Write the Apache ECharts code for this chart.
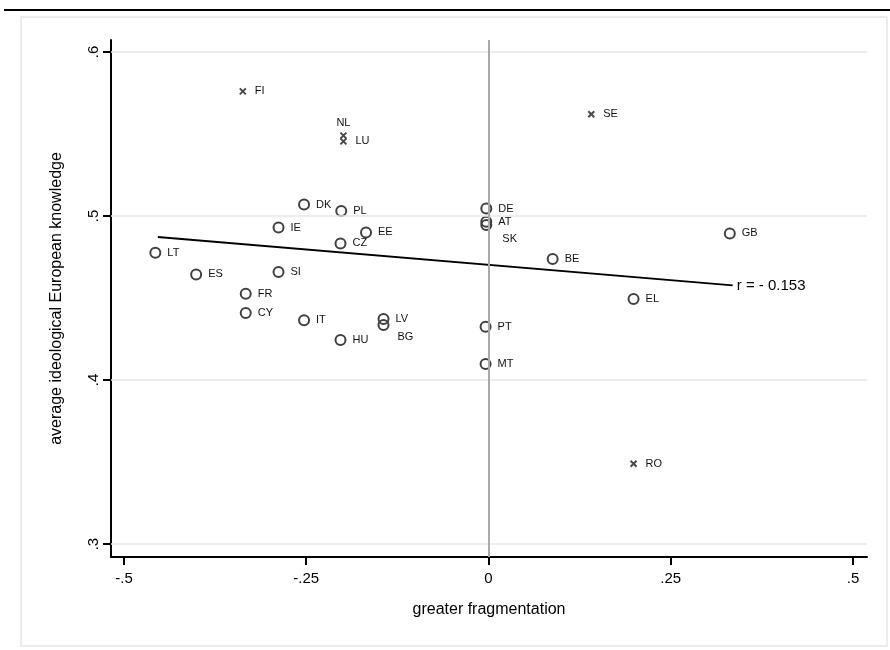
<!DOCTYPE html>
<html>
<head>
<meta charset="utf-8">
<script src="https://cdn.jsdelivr.net/npm/echarts@6/dist/echarts.min.js"></script>
<style>html,body{margin:0;padding:0;background:#fff}#c{width:890px;height:650px}</style>
</head>
<body>
<div id="c"></div>
<script>
// ---- data ----
const crossCodes = ['FI', 'NL', 'LU', 'SE', 'RO'];
const crossX = [-0.337, -0.199, -0.199, 0.141, 0.199];
const crossY = [0.576, 0.549, 0.5455, 0.562, 0.349];

const circleCodes = ['DK','PL','IE','EE','CZ','DE','AT','SK','GB','BE','LT','ES','SI','FR','CY','IT','LV','BG','HU','PT','MT','EL'];
const circleX = [-0.253,-0.202,-0.288,-0.168,-0.203,-0.003,-0.003,-0.003,0.331,0.088,-0.457,-0.401,-0.288,-0.333,-0.333,-0.253,-0.144,-0.144,-0.203,-0.004,-0.004,0.199];
const circleY = [0.507,0.503,0.493,0.490,0.4833,0.5045,0.4965,0.4945,0.4894,0.4738,0.4776,0.4644,0.4659,0.4526,0.4409,0.4364,0.4372,0.4335,0.4244,0.4325,0.4098,0.4494];

const fitX = [-0.4536, 0.335];
const fitY = [0.4872, 0.4577];
const rLabel = 'r = - 0.153';

const xTicks = [-0.5, -0.25, 0, 0.25, 0.5];
const yTicks = [0.3, 0.4, 0.5, 0.6];
const gridY = [0.3, 0.4, 0.5, 0.6];
const zeroX = [0];

const xTitle = 'greater fragmentation';
const yTitle = 'average ideological European knowledge';

// ---- chart ----
const FONT = '"Liberation Sans", Arial, Helvetica, sans-serif';
function fmt(v) {
  const r = Math.round(v * 1000) / 1000;
  if (r === 0) return '0';
  return String(r).replace('0.', '.');
}
const specialLabel = {
  NL: { position: 'top', distance: 3 },
  SK: { position: 'right', distance: 7, offset: [3, 14] },
  BG: { position: 'right', distance: 7, offset: [1, 12] }
};
const circleData = circleCodes.map((c, i) => {
  const d = { name: c, value: [circleX[i], circleY[i]] };
  if (specialLabel[c]) d.label = specialLabel[c];
  return d;
});
const crossData = crossCodes.map((c, i) => {
  const d = { name: c, value: [crossX[i], crossY[i]] };
  if (specialLabel[c]) d.label = specialLabel[c];
  return d;
});

const chart = echarts.init(document.getElementById('c'), null, { renderer: 'canvas' });
chart.setOption({
  animation: false,
  backgroundColor: '#fff',
  textStyle: { fontFamily: FONT },
  graphic: [
    { type: 'rect', z: -10, shape: { x: 21, y: 17, width: 866, height: 629 },
      style: { fill: 'none', stroke: '#e6e6e6', lineWidth: 1.5 } },
    { type: 'line', z: -10, shape: { x1: 4, y1: 10, x2: 890, y2: 10 },
      style: { stroke: '#000', lineWidth: 2 } }
  ],
  grid: { left: 111, right: 23, top: 40, bottom: 93 },
  xAxis: {
    type: 'value', min: -0.5178, max: 0.5192,
    splitLine: { show: false },
    axisLine: { show: true, onZero: false, lineStyle: { color: '#000', width: 2 } },
    axisTick: { show: true, length: 8, lineStyle: { color: '#000', width: 2 }, customValues: xTicks },
    axisLabel: { customValues: xTicks, formatter: fmt, fontSize: 15, color: '#000', margin: 14, fontFamily: FONT },
    name: xTitle, nameLocation: 'middle', nameGap: 45,
    nameTextStyle: { fontSize: 16, color: '#000', fontFamily: FONT }
  },
  yAxis: {
    type: 'value', min: 0.2921, max: 0.6073,
    splitLine: { show: false },
    axisLine: { show: true, onZero: false, lineStyle: { color: '#000', width: 2 } },
    axisTick: { show: true, length: 8, lineStyle: { color: '#000', width: 2 }, customValues: yTicks },
    axisLabel: { customValues: yTicks, formatter: fmt, rotate: 90, fontSize: 15, color: '#000', margin: 10, fontFamily: FONT },
    name: yTitle, nameLocation: 'middle', nameGap: 46, nameRotate: 90,
    nameTextStyle: { fontSize: 16, color: '#000', fontFamily: FONT }
  },
  series: [
    {
      type: 'scatter', data: [], z: 1, silent: true,
      markLine: {
        silent: true, symbol: 'none', animation: false,
        label: { show: false },
        data: gridY.map(v => ({ yAxis: v, lineStyle: { color: '#e6e6e6', width: 1.5, type: 'solid' } }))
          .concat(zeroX.map(v => ({ xAxis: v, lineStyle: { color: '#a9a9a9', width: 2, type: 'solid' } })))
      }
    },
    {
      type: 'line', z: 3, data: fitX.map((x, i) => [x, fitY[i]]),
      showSymbol: false, symbol: 'none',
      lineStyle: { color: '#000', width: 2 },
      endLabel: { show: true, formatter: rLabel, fontSize: 15, color: '#000', distance: 4, fontFamily: FONT }
    },
    {
      type: 'scatter', z: 4, data: circleData,
      symbol: 'circle', symbolSize: 10,
      itemStyle: { color: 'transparent', borderColor: '#404040', borderWidth: 2, opacity: 1 },
      label: { show: true, formatter: '{b}', position: 'right', distance: 6, fontSize: 11, color: '#111', fontFamily: FONT },
      emphasis: { disabled: true }
    },
    {
      type: 'scatter', z: 4, data: crossData,
      symbol: 'path://M0,0L10,10M10,0L0,10', symbolSize: 6,
      itemStyle: { color: '#4a4a4a', borderColor: '#4a4a4a', borderWidth: 2, opacity: 1 },
      label: { show: true, formatter: '{b}', position: 'right', distance: 8, fontSize: 11, color: '#111', fontFamily: FONT, opacity: 1 },
      emphasis: { disabled: true }
    }
  ]
});
</script>
</body>
</html>
